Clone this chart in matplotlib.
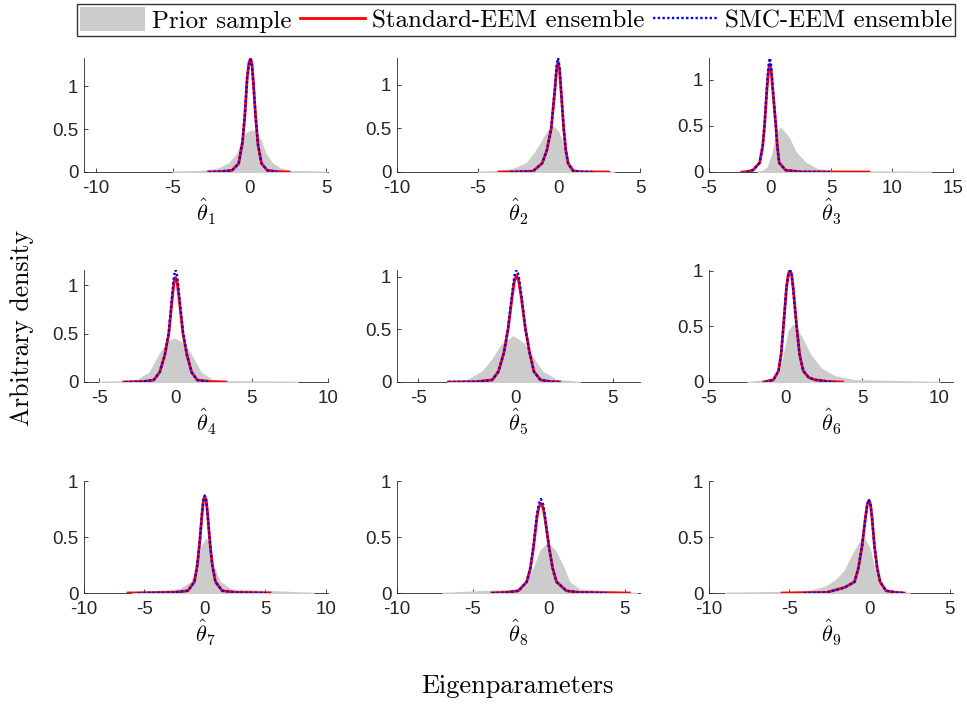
import matplotlib
matplotlib.use("Agg")
import matplotlib.pyplot as plt
from matplotlib.patches import Patch
from matplotlib.lines import Line2D

plt.rcParams['font.family'] = 'Liberation Sans'
plt.rcParams['mathtext.fontset'] = 'cm'
plt.rcParams['axes.unicode_minus'] = False

# kernel density estimates of the nine eigenparameters
# prior sample (grey area)
prior_x = [
    [-5, -3.2, -2.0, -1.35, -0.8, -0.48, -0.15, 0.17, 0.45, 0.72, 1.04, 1.48, 2.0, 2.67, 5],
    [-5, -4.1, -2.9, -2.0, -1.5, -1.04, -0.7, -0.33, -0.05, 0.29, 0.56, 0.88, 1.3, 3.4],
    [-1.0, -0.6, -0.19, 0.2, 0.5, 0.88, 1.54, 2.07, 2.9, 3.9, 5.3, 8, 13.2],
    [-5, -3.3, -2.5, -1.7, -1.0, -0.55, -0.1, 0.4, 0.95, 1.65, 2.4, 3.5, 8],
    [-3.5, -2.47, -1.7, -1.19, -0.7, -0.12, 0.45, 0.94, 1.36, 2.1, 3.3],
    [-2.5, -0.7, -0.36, -0.04, 0.2, 0.49, 1.03, 1.57, 2.3, 3.2, 4.5, 10],
    [-6, -2.1, -1.1, -0.6, -0.25, 0.1, 0.4, 0.7, 1.24, 2.2, 9],
    [-7, -2.1, -1.46, -1.0, -0.55, -0.1, 0.4, 0.98, 1.33, 2.0, 5.8],
    [-9, -4.73, -3.7, -2.67, -2.06, -1.54, -1.03, -0.41, 0, 0.31, 0.62, 0.93, 1.23, 2.5],
]
prior_y = [
    [0, 0.01, 0.04, 0.1, 0.21, 0.37, 0.46, 0.485, 0.45, 0.37, 0.21, 0.1, 0.04, 0.01, 0],
    [0, 0.005, 0.03, 0.1, 0.22, 0.36, 0.47, 0.515, 0.46, 0.3, 0.12, 0.04, 0.01, 0],
    [0, 0.01, 0.05, 0.2, 0.4, 0.477, 0.37, 0.22, 0.1, 0.03, 0.01, 0.002, 0],
    [0, 0.005, 0.02, 0.1, 0.3, 0.41, 0.448, 0.41, 0.3, 0.1, 0.02, 0.005, 0],
    [0, 0.02, 0.1, 0.216, 0.36, 0.432, 0.36, 0.216, 0.1, 0.02, 0],
    [0, 0.02, 0.1, 0.3, 0.46, 0.513, 0.4, 0.25, 0.12, 0.05, 0.015, 0],
    [0, 0.03, 0.1, 0.24, 0.42, 0.482, 0.42, 0.24, 0.1, 0.03, 0],
    [0, 0.03, 0.1, 0.22, 0.38, 0.444, 0.38, 0.22, 0.1, 0.03, 0],
    [0, 0.008, 0.02, 0.06, 0.12, 0.2, 0.35, 0.503, 0.4, 0.2, 0.07, 0.02, 0.005, 0],
]

# Standard-EEM ensemble (red)
std_x = [
    [-2.65, -1.9, -1.13, -0.7, -0.45, -0.3, -0.15, -0.04, 0.07, 0.16, 0.25, 0.39, 0.55, 0.78, 1.15, 1.8, 2.56],
    [-3.7, -2.5, -1.6, -1.04, -0.75, -0.48, -0.25, -0.15, -0.06, 0.03, 0.12, 0.29, 0.42, 0.56, 0.88, 1.5, 3.06],
    [-2.3, -1.9, -1.4, -0.85, -0.6, -0.45, -0.25, -0.12, -0.02, 0.09, 0.22, 0.48, 0.6, 0.75, 1.28, 2.5, 5, 8.1],
    [-3.4, -2.2, -1.43, -1.04, -0.7, -0.44, -0.22, -0.1, 0, 0.11, 0.24, 0.49, 0.75, 1.06, 1.43, 2.3, 3.3],
    [-3.45, -2.0, -1.2, -0.88, -0.6, -0.39, -0.17, -0.06, 0.05, 0.16, 0.28, 0.51, 0.72, 0.94, 1.28, 1.8, 2.26],
    [-1.44, -0.8, -0.47, -0.3, -0.15, 0.05, 0.17, 0.28, 0.38, 0.48, 0.71, 0.9, 1.14, 1.5, 1.9, 2.8, 3.7],
    [-6.36, -2.6, -1.4, -0.86, -0.62, -0.44, -0.22, -0.11, 0, 0.11, 0.22, 0.44, 0.62, 0.88, 1.44, 2.6, 5.4],
    [-3.75, -2.77, -2.0, -1.46, -1.22, -1.02, -0.78, -0.65, -0.52, -0.38, -0.25, 0.02, 0.25, 0.5, 1.15, 2.0, 5.3],
    [-5.45, -2.67, -1.54, -0.93, -0.7, -0.47, -0.25, -0.14, -0.04, 0.06, 0.15, 0.31, 0.48, 0.66, 1.03, 1.65, 2.16],
]
std_y = [
    [0, 0.004, 0.02, 0.1, 0.35, 0.665, 1.1, 1.27, 1.33, 1.26, 1.05, 0.665, 0.32, 0.1, 0.02, 0.004, 0],
    [0, 0.003, 0.01, 0.1, 0.25, 0.5, 0.95, 1.18, 1.265, 1.18, 0.95, 0.5, 0.25, 0.1, 0.01, 0.002, 0],
    [0, 0.003, 0.02, 0.1, 0.28, 0.5, 0.9, 1.1, 1.17, 1.1, 0.9, 0.5, 0.28, 0.1, 0.02, 0.002, 0, 0],
    [0, 0.004, 0.02, 0.1, 0.28, 0.5, 0.86, 1.03, 1.083, 1.03, 0.86, 0.5, 0.28, 0.1, 0.02, 0.004, 0],
    [0, 0.003, 0.02, 0.1, 0.28, 0.5, 0.82, 0.96, 1.01, 0.96, 0.82, 0.5, 0.28, 0.1, 0.02, 0.004, 0],
    [0, 0.02, 0.1, 0.25, 0.5, 0.85, 0.97, 1.006, 0.97, 0.85, 0.5, 0.25, 0.1, 0.04, 0.02, 0.004, 0],
    [0, 0.005, 0.02, 0.1, 0.25, 0.432, 0.72, 0.83, 0.864, 0.83, 0.72, 0.432, 0.25, 0.1, 0.02, 0.005, 0],
    [0, 0.005, 0.02, 0.1, 0.22, 0.4, 0.68, 0.77, 0.80, 0.76, 0.66, 0.4, 0.22, 0.1, 0.02, 0.005, 0],
    [0, 0.005, 0.05, 0.1, 0.22, 0.414, 0.68, 0.79, 0.828, 0.79, 0.68, 0.414, 0.22, 0.1, 0.02, 0.005, 0],
]

# SMC-EEM ensemble (blue dotted)
smc_x = [
    [-2.65, -1.9, -1.13, -0.7, -0.45, -0.3, -0.15, -0.04, 0.07, 0.16, 0.25, 0.39, 0.55, 0.78, 1.15, 1.8],
    [-3.0, -2.5, -1.6, -1.04, -0.75, -0.48, -0.25, -0.15, -0.06, 0.03, 0.12, 0.29, 0.42, 0.56, 0.88, 1.5, 2.1],
    [-1.9, -1.4, -0.85, -0.6, -0.45, -0.25, -0.12, -0.02, 0.09, 0.22, 0.48, 0.6, 0.75, 1.28, 2.5, 5],
    [-3.3, -2.2, -1.43, -1.04, -0.7, -0.44, -0.22, -0.1, 0, 0.11, 0.24, 0.49, 0.75, 1.06, 1.43, 2.3],
    [-3.45, -2.0, -1.2, -0.88, -0.6, -0.39, -0.17, -0.06, 0.05, 0.16, 0.28, 0.51, 0.72, 0.94, 1.28, 1.8, 2.26],
    [-1.33, -0.8, -0.47, -0.3, -0.15, 0.05, 0.17, 0.28, 0.38, 0.48, 0.71, 0.9, 1.14, 1.5, 1.9, 2.8, 3.2],
    [-5.5, -2.6, -1.4, -0.86, -0.62, -0.44, -0.22, -0.11, 0, 0.11, 0.22, 0.44, 0.62, 0.88, 1.44, 2.6, 5.4],
    [-3.75, -2.77, -2.0, -1.46, -1.22, -1.02, -0.78, -0.65, -0.52, -0.38, -0.25, 0.02, 0.25, 0.5, 1.15, 2.0, 3.8],
    [-4.1, -2.67, -1.54, -0.93, -0.7, -0.47, -0.25, -0.14, -0.04, 0.06, 0.15, 0.31, 0.48, 0.66, 1.03, 1.65, 2.16],
]
smc_y = [
    [0, 0.004, 0.02, 0.1, 0.36, 0.67, 1.1, 1.25, 1.31, 1.24, 1.04, 0.66, 0.32, 0.1, 0.02, 0.002],
    [0, 0.003, 0.01, 0.1, 0.25, 0.5, 0.97, 1.22, 1.31, 1.22, 0.97, 0.5, 0.25, 0.1, 0.01, 0.002, 0],
    [0.003, 0.02, 0.1, 0.28, 0.5, 0.93, 1.16, 1.235, 1.16, 0.93, 0.5, 0.28, 0.1, 0.02, 0.002, 0],
    [0, 0.004, 0.02, 0.1, 0.28, 0.52, 0.9, 1.1, 1.16, 1.1, 0.9, 0.52, 0.28, 0.1, 0.02, 0.002],
    [0, 0.003, 0.02, 0.1, 0.28, 0.5, 0.85, 1.01, 1.063, 1.01, 0.85, 0.5, 0.28, 0.1, 0.02, 0.004, 0],
    [0, 0.02, 0.1, 0.25, 0.5, 0.85, 0.96, 1.0, 0.96, 0.85, 0.5, 0.25, 0.1, 0.04, 0.02, 0.004, 0],
    [0, 0.005, 0.02, 0.1, 0.25, 0.432, 0.72, 0.835, 0.87, 0.835, 0.72, 0.432, 0.25, 0.1, 0.02, 0.005, 0],
    [0, 0.005, 0.02, 0.1, 0.22, 0.42, 0.71, 0.8, 0.84, 0.79, 0.68, 0.4, 0.22, 0.1, 0.02, 0.005, 0],
    [0, 0.005, 0.05, 0.1, 0.22, 0.414, 0.68, 0.795, 0.835, 0.795, 0.68, 0.414, 0.22, 0.1, 0.02, 0.005, 0],
]

xlims = [(-10.75, 5.1), (-10, 5), (-5, 15), (-6, 10), (-6.1, 6.4),
         (-5, 10.9), (-10, 10.2), (-10, 6), (-10, 5.2)]
xticks = [[-10, -5, 0, 5], [-10, -5, 0, 5], [-5, 0, 5, 10, 15],
          [-5, 0, 5, 10], [-5, 0, 5], [-5, 0, 5, 10],
          [-10, -5, 0, 5, 10], [-10, -5, 0, 5], [-10, -5, 0, 5]]

grey = (0.8, 0.8, 0.8)
axcol = (0.15, 0.15, 0.15)

fig = plt.figure(figsize=(9.67, 7.04), dpi=100)
W, H = 967, 704
col_left = [84, 397, 709]
col_w = [244, 243, 244]
row_top = [58, 270, 481]
row_h = [114, 112, 112]

for i in range(9):
    r, c = divmod(i, 3)
    ax = fig.add_axes([col_left[c] / W, 1 - (row_top[r] + row_h[r]) / H,
                       col_w[c] / W, row_h[r] / H])
    ax.fill_between(prior_x[i], prior_y[i], 0, facecolor=grey, edgecolor=grey,
                    linewidth=1.0, zorder=2.6)
    ax.plot(std_x[i], std_y[i], color='red', lw=2.0, zorder=3)
    ax.plot(smc_x[i], smc_y[i], color='blue', lw=1.7, ls=(0, (1, 1)), zorder=4)

    top = max(max(std_y[i]), max(smc_y[i]))
    ax.set_ylim(0, top if top > 1 else 1)
    ax.set_xlim(*xlims[i])
    ax.set_xticks(xticks[i])
    ax.set_yticks([0, 0.5, 1])
    ax.set_yticklabels(['0', '0.5', '1'])
    for s in ['top', 'right']:
        ax.spines[s].set_visible(False)
    for s in ['left', 'bottom']:
        ax.spines[s].set_color(axcol)
        ax.spines[s].set_linewidth(0.6)
    ax.tick_params(direction='in', length=3, width=0.6, colors=axcol,
                   labelsize=13.5, labelcolor=axcol, pad=4)
    ax.tick_params(axis='x', pad=6)
    ax.set_xlabel(r'$\hat{\theta}_{%d}$' % (i + 1), fontsize=16, labelpad=0)

fig.text(22 / W, 1 - 328 / H, 'Arbitrary density', family='cmr10', fontsize=18.5,
         rotation=90, ha='center', va='center')
fig.text(517 / W, 1 - 686 / H, 'Eigenparameters', family='cmr10', fontsize=19,
         ha='center', va='center')

handles = [Patch(facecolor=grey, edgecolor='none'),
           Line2D([], [], color='red', lw=2.0),
           Line2D([], [], color='blue', lw=1.7, ls=(0, (1, 1)))]
labels = ['Prior sample', 'Standard-EEM ensemble', 'SMC-EEM ensemble']
leg = fig.legend(handles, labels, ncol=3, loc='center',
                 bbox_to_anchor=(516 / W, 1 - 20 / H),
                 prop={'family': 'cmr10', 'size': 18},
                 frameon=True, fancybox=False, edgecolor='black',
                 handlelength=2.6, handleheight=1.1, handletextpad=0.28,
                 columnspacing=0.35, borderpad=0.12, borderaxespad=0)
leg.get_frame().set_linewidth(1.0)

fig.savefig('out.png', dpi=100)
